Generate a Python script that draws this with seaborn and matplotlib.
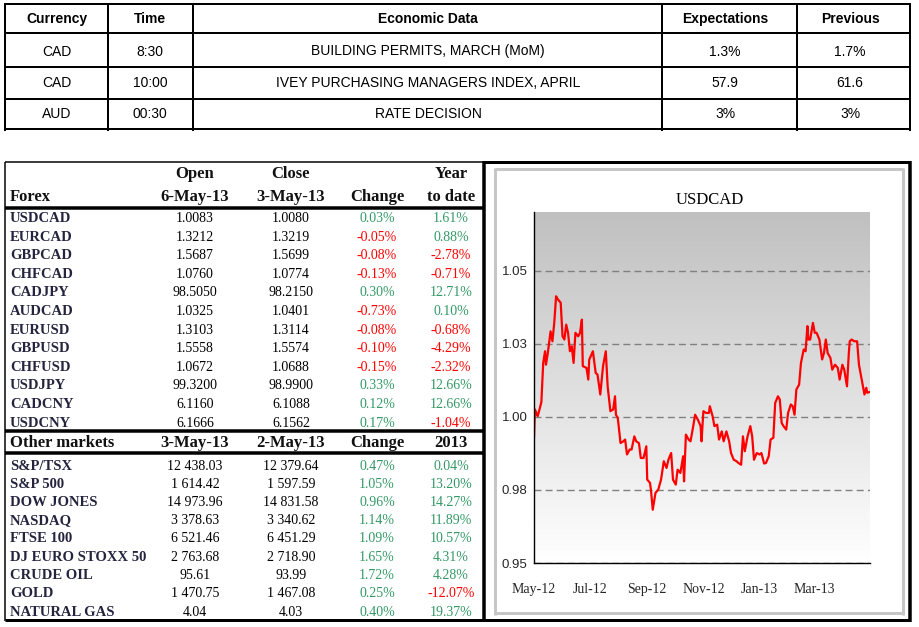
import numpy as np
import pandas as pd
import matplotlib
matplotlib.use("Agg")
import matplotlib.pyplot as plt
import matplotlib.dates as mdates
from matplotlib.colors import LinearSegmentedColormap
import seaborn as sns

# ---------------- data ----------------
cal_header = ["Currency", "Time", "Economic Data", "Expectations", "Previous"]
cal_currency = ["CAD", "CAD", "AUD"]
cal_time = ["8:30", "10:00", "00:30"]
cal_event = ["BUILDING PERMITS, MARCH (MoM)", "IVEY PURCHASING MANAGERS INDEX, APRIL", "RATE DECISION"]
cal_expect = ["1.3%", "57.9", "3%"]
cal_previous = ["1.7%", "61.6", "3%"]

fx_header_top = ["", "Open", "Close", "", "Year"]
fx_header_bottom = ["Forex", "6-May-13", "3-May-13", "Change", "to date"]
fx_names = ["USDCAD", "EURCAD", "GBPCAD", "CHFCAD", "CADJPY", "AUDCAD", "EURUSD",
            "GBPUSD", "CHFUSD", "USDJPY", "CADCNY", "USDCNY"]
fx_open = ["1.0083", "1.3212", "1.5687", "1.0760", "98.5050", "1.0325", "1.3103",
           "1.5558", "1.0672", "99.3200", "6.1160", "6.1666"]
fx_close = ["1.0080", "1.3219", "1.5699", "1.0774", "98.2150", "1.0401", "1.3114",
            "1.5574", "1.0688", "98.9900", "6.1088", "6.1562"]
fx_change = ["0.03%", "-0.05%", "-0.08%", "-0.13%", "0.30%", "-0.73%", "-0.08%",
             "-0.10%", "-0.15%", "0.33%", "0.12%", "0.17%"]
fx_ytd = ["1.61%", "0.88%", "-2.78%", "-0.71%", "12.71%", "0.10%", "-0.68%",
          "-4.29%", "-2.32%", "12.66%", "12.66%", "-1.04%"]

mk_header = ["Other markets", "3-May-13", "2-May-13", "Change", "2013"]
mk_names = ["S&P/TSX", "S&P 500", "DOW JONES", "NASDAQ", "FTSE 100",
            "DJ EURO STOXX 50", "CRUDE OIL", "GOLD", "NATURAL GAS"]
mk_last = ["12 438.03", "1 614.42", "14 973.96", "3 378.63", "6 521.46",
           "2 763.68", "95.61", "1 470.75", "4.04"]
mk_prev = ["12 379.64", "1 597.59", "14 831.58", "3 340.62", "6 451.29",
           "2 718.90", "93.99", "1 467.08", "4.03"]
mk_change = ["0.47%", "1.05%", "0.96%", "1.14%", "1.09%", "1.65%", "1.72%", "0.25%", "0.40%"]
mk_2013 = ["0.04%", "13.20%", "14.27%", "11.89%", "10.57%", "4.31%", "4.28%", "-12.07%", "19.37%"]

chart_title = "USDCAD"
usdcad_dates = ["2012-05-01","2012-05-02","2012-05-05","2012-05-06","2012-05-09","2012-05-11","2012-05-13","2012-05-14",
    "2012-05-16","2012-05-19","2012-05-21","2012-05-23","2012-05-25","2012-05-27","2012-05-30","2012-06-01","2012-06-03",
    "2012-06-05","2012-06-07","2012-06-09","2012-06-11","2012-06-13","2012-06-15","2012-06-18","2012-06-20","2012-06-22",
    "2012-06-23","2012-06-27","2012-06-29","2012-06-30","2012-07-04","2012-07-07","2012-07-09","2012-07-12","2012-07-15",
    "2012-07-18","2012-07-20","2012-07-23","2012-07-26","2012-07-28","2012-07-29","2012-07-31","2012-08-03","2012-08-06",
    "2012-08-08","2012-08-10","2012-08-13","2012-08-15","2012-08-18","2012-08-20","2012-08-23","2012-08-25","2012-08-28",
    "2012-08-31","2012-09-01","2012-09-04","2012-09-05","2012-09-07","2012-09-10","2012-09-13","2012-09-16","2012-09-19",
    "2012-09-22","2012-09-24","2012-09-27","2012-09-29","2012-10-02","2012-10-04","2012-10-07","2012-10-10","2012-10-11",
    "2012-10-13","2012-10-16","2012-10-18","2012-10-21","2012-10-23","2012-10-26","2012-10-29","2012-10-30","2012-11-01",
    "2012-11-04","2012-11-07","2012-11-08","2012-11-11","2012-11-13","2012-11-16","2012-11-18","2012-11-21","2012-11-23",
    "2012-11-26","2012-11-29","2012-12-01","2012-12-04","2012-12-07","2012-12-09","2012-12-12","2012-12-14","2012-12-16",
    "2012-12-19","2012-12-22","2012-12-24","2012-12-26","2012-12-29","2013-01-01","2013-01-03","2013-01-06","2013-01-08",
    "2013-01-11","2013-01-13","2013-01-16","2013-01-18","2013-01-21","2013-01-23","2013-01-25","2013-01-27","2013-01-30",
    "2013-02-01","2013-02-04","2013-02-06","2013-02-08","2013-02-10","2013-02-13","2013-02-15","2013-02-18","2013-02-20",
    "2013-02-22","2013-02-23","2013-02-25","2013-02-28","2013-03-02","2013-03-04","2013-03-07","2013-03-10","2013-03-12",
    "2013-03-14","2013-03-16","2013-03-19","2013-03-21","2013-03-24","2013-03-27","2013-03-29","2013-04-01","2013-04-03",
    "2013-04-06","2013-04-08","2013-04-09","2013-04-11","2013-04-14","2013-04-17","2013-04-19","2013-04-22","2013-04-25",
    "2013-04-27","2013-04-28","2013-05-01"]
usdcad_values = [0.9928, 1.0025, 1.0002, 1.0013, 1.0050, 1.0184, 1.0224, 1.0178, 1.0218, 1.0292, 1.0258, 1.0321,
    1.0412, 1.0401, 1.0390, 1.0275, 1.0264, 1.0315, 1.0287, 1.0224, 1.0241, 1.0184, 1.0287, 1.0275, 1.0287, 1.0332,
    1.0173, 1.0167, 1.0127, 1.0195, 1.0224, 1.0150, 1.0144, 1.0076, 1.0173, 1.0224, 1.0104, 1.0019, 1.0025, 1.0070,
    1.0007, 0.9996, 0.9910, 0.9916, 0.9922, 0.9871, 0.9888, 0.9888, 0.9933, 0.9916, 0.9910, 0.9859, 0.9859, 0.9899,
    0.9785, 0.9774, 0.9751, 0.9682, 0.9740, 0.9751, 0.9785, 0.9848, 0.9825, 0.9853, 0.9876, 0.9785, 0.9768, 0.9819,
    0.9808, 0.9865, 0.9779, 0.9939, 0.9922, 0.9916, 0.9968, 1.0007, 0.9990, 0.9968, 0.9916, 1.0019, 1.0013, 1.0013,
    1.0036, 1.0002, 0.9968, 0.9973, 0.9922, 0.9950, 0.9916, 0.9950, 0.9916, 0.9876, 0.9853, 0.9848, 0.9842, 0.9836,
    0.9933, 0.9882, 0.9933, 0.9968, 0.9933, 0.9853, 0.9876, 0.9871, 0.9876, 0.9840, 0.9842, 0.9865, 0.9922, 0.9928,
    1.0047, 1.0070, 1.0059, 0.9979, 0.9968, 0.9956, 1.0013, 1.0042, 1.0036, 1.0007, 1.0093, 1.0110, 1.0184, 1.0230,
    1.0224, 1.0310, 1.0264, 1.0264, 1.0321, 1.0287, 1.0287, 1.0264, 1.0196, 1.0218, 1.0264, 1.0218, 1.0201, 1.0161,
    1.0178, 1.0167, 1.0127, 1.0178, 1.0161, 1.0104, 1.0218, 1.0258, 1.0264, 1.0258, 1.0258, 1.0178, 1.0127, 1.0076,
    1.0099, 1.0082, 1.0085]
y_ticks = [0.95, 0.975, 1.0, 1.025, 1.05]
y_tick_labels = ["0.95", "0.98", "1.00", "1.03", "1.05"]
x_ticks = ["2012-05-01", "2012-07-01", "2012-09-01", "2012-11-01", "2013-01-01", "2013-03-01", "2013-05-01"]
x_tick_labels = ["May-12", "Jul-12", "Sep-12", "Nov-12", "Jan-13", "Mar-13", ""]

assert len(usdcad_dates) == len(usdcad_values)

# ---------------- styling ----------------
sns.set_theme(style="white")
plt.rcParams["font.family"] = ["Liberation Serif", "DejaVu Serif"]

W, H = 919, 627
fig = plt.figure(figsize=(W / 100, H / 100), dpi=100)
fig.patch.set_facecolor("white")

bg = fig.add_axes([0, 0, 1, 1])
bg.set_xlim(0, W)
bg.set_ylim(H, 0)
bg.axis("off")

PX = 72 / 100  # points per pixel
GREEN = "#339966"
RED = "#ff0000"
NAVY = "#24243f"


def hline(y, x0, x1, lw_px=2, color="black"):
    bg.plot([x0, x1], [y, y], color=color, lw=lw_px * PX, solid_capstyle="butt")


def vline(x, y0, y1, lw_px=2, color="black"):
    bg.plot([x, x], [y0, y1], color=color, lw=lw_px * PX, solid_capstyle="butt")


# ---------- top calendar table ----------
sans = ["Liberation Sans", "DejaVu Sans"]
t_rows_y = [3.5, 33, 67, 99, 129]
t_cols_x = [5, 108, 193, 662, 797, 910]
for y in t_rows_y:
    hline(y, 4, 911)
for x in t_cols_x:
    vline(x, 2.5, 131)
col_cx = [57, 150, 428, 725, 850]
for cx, txt in zip(col_cx, cal_header):
    bg.text(cx, 19, txt, ha="center", va="center", family=sans, fontsize=10, fontweight="bold", color="black")
row_cy = [51.5, 83, 114.5]
for i in range(3):
    vals = [cal_currency[i], cal_time[i], cal_event[i], cal_expect[i], cal_previous[i]]
    for cx, txt in zip(col_cx, vals):
        bg.text(cx, row_cy[i], txt, ha="center", va="center", family=sans, fontsize=10, color="black")

# ---------- lower-left market table ----------
hline(162, 5, 484, 1.5)
vline(5, 162, 621, 1.5)
hline(620, 5, 484, 3)
hline(208, 5, 484, 3.5)
hline(431, 5, 484, 3.5)
hline(453, 5, 484, 3.5)

serif = ["Liberation Serif", "DejaVu Serif"]
cx_cols = [10, 195, 291, 377, 451]
HDR_SIZE = 12
for j, txt in enumerate(fx_header_top):
    if txt:
        bg.text(cx_cols[j], 174, txt, ha="center", va="center", family=serif, fontsize=HDR_SIZE,
                fontweight="bold", color="#111111")
for j, txt in enumerate(fx_header_bottom):
    bg.text(cx_cols[j], 197, txt, ha="left" if j == 0 else "center", va="center",
            family=serif, fontsize=HDR_SIZE, fontweight="bold", color="#111111")


def chg_color(s):
    return RED if s.startswith("-") else GREEN


for i, name in enumerate(fx_names):
    y = 218.5 + i * 18.6
    bg.text(10, y, name, ha="left", va="center", family=serif, fontsize=10.5, fontweight="bold", color=NAVY)
    bg.text(cx_cols[1], y, fx_open[i], ha="center", va="center", family=serif, fontsize=10, color="black")
    bg.text(cx_cols[2], y, fx_close[i], ha="center", va="center", family=serif, fontsize=10, color="black")
    bg.text(cx_cols[3], y, fx_change[i], ha="center", va="center", family=serif, fontsize=10, color=chg_color(fx_change[i]))
    bg.text(cx_cols[4], y, fx_ytd[i], ha="center", va="center", family=serif, fontsize=10, color=chg_color(fx_ytd[i]))

for j, txt in enumerate(mk_header):
    bg.text(cx_cols[j], 443, txt, ha="left" if j == 0 else "center", va="center",
            family=serif, fontsize=HDR_SIZE, fontweight="bold", color="#111111")

for i, name in enumerate(mk_names):
    y = 466 + i * 18.25
    bg.text(10, y, name, ha="left", va="center", family=serif, fontsize=10.5, fontweight="bold", color=NAVY)
    bg.text(cx_cols[1], y, mk_last[i], ha="center", va="center", family=serif, fontsize=10, color="black")
    bg.text(cx_cols[2], y, mk_prev[i], ha="center", va="center", family=serif, fontsize=10, color="black")
    bg.text(cx_cols[3], y, mk_change[i], ha="center", va="center", family=serif, fontsize=10, color=chg_color(mk_change[i]))
    bg.text(cx_cols[4], y, mk_2013[i], ha="center", va="center", family=serif, fontsize=10, color=chg_color(mk_2013[i]))

# ---------- chart panel frame ----------
hline(162, 484, 910, 3)
hline(620, 484, 910, 3)
vline(484, 160.5, 621.5, 3.5)
vline(910, 160.5, 621.5, 3.5)
gray = "#c6c6c6"
hline(169, 495, 903, 3, gray)
hline(613, 495, 903, 3, gray)
vline(495, 167.5, 614.5, 3, gray)
vline(903, 167.5, 614.5, 3, gray)

bg.text(710, 200, chart_title, ha="center", va="center", family=serif, fontsize=12, color="black")

# ---------- USDCAD chart ----------
x0p, x1p, y0p, y1p = 534, 870, 212, 563
ax = fig.add_axes([x0p / W, 1 - y1p / H, (x1p - x0p) / W, (y1p - y0p) / H])
df = pd.DataFrame({"date": pd.to_datetime(usdcad_dates), "value": usdcad_values})

xlim = (pd.Timestamp(x_ticks[0]), pd.Timestamp(x_ticks[-1]))
ylim = (0.95, 1.07)
cmap = LinearSegmentedColormap.from_list("g", ["#c0c0c0", "#ffffff"])
grad = np.linspace(0, 1, 256).reshape(-1, 1)
ax.imshow(grad, cmap=cmap, aspect="auto", origin="upper", zorder=0,
          extent=[mdates.date2num(xlim[0]), mdates.date2num(xlim[1]), ylim[0], ylim[1]])

sns.lineplot(data=df, x="date", y="value", ax=ax, color="#ff0000", lw=1.6, zorder=3)

ax.set_xlim(xlim)
ax.set_ylim(ylim)
ax.set_yticks(y_ticks)
ax.set_yticklabels(y_tick_labels, family=sans, fontsize=9.5)
ax.set_xticks(pd.to_datetime(x_ticks))
ax.set_xticklabels(x_tick_labels, family=serif, fontsize=10)
ax.set_xlabel("")
ax.set_ylabel("")
ax.yaxis.grid(True, color="#808080", ls=(0, (5, 3)), lw=1.0)
ax.xaxis.grid(False)
ax.set_axisbelow(True)
for gl in ax.get_ygridlines():
    gl.set_zorder(1)
for s in ["top", "right"]:
    ax.spines[s].set_visible(False)
for s in ["left", "bottom"]:
    ax.spines[s].set_color("black")
    ax.spines[s].set_linewidth(1.0)
    ax.spines[s].set_zorder(4)
ax.tick_params(axis="y", direction="out", length=2.5, width=1, color="black", pad=2)
ax.tick_params(axis="x", direction="out", length=4.5, width=1, color="black", pad=10)
ax.set_facecolor("white")

fig.savefig("out.png", dpi=100)
